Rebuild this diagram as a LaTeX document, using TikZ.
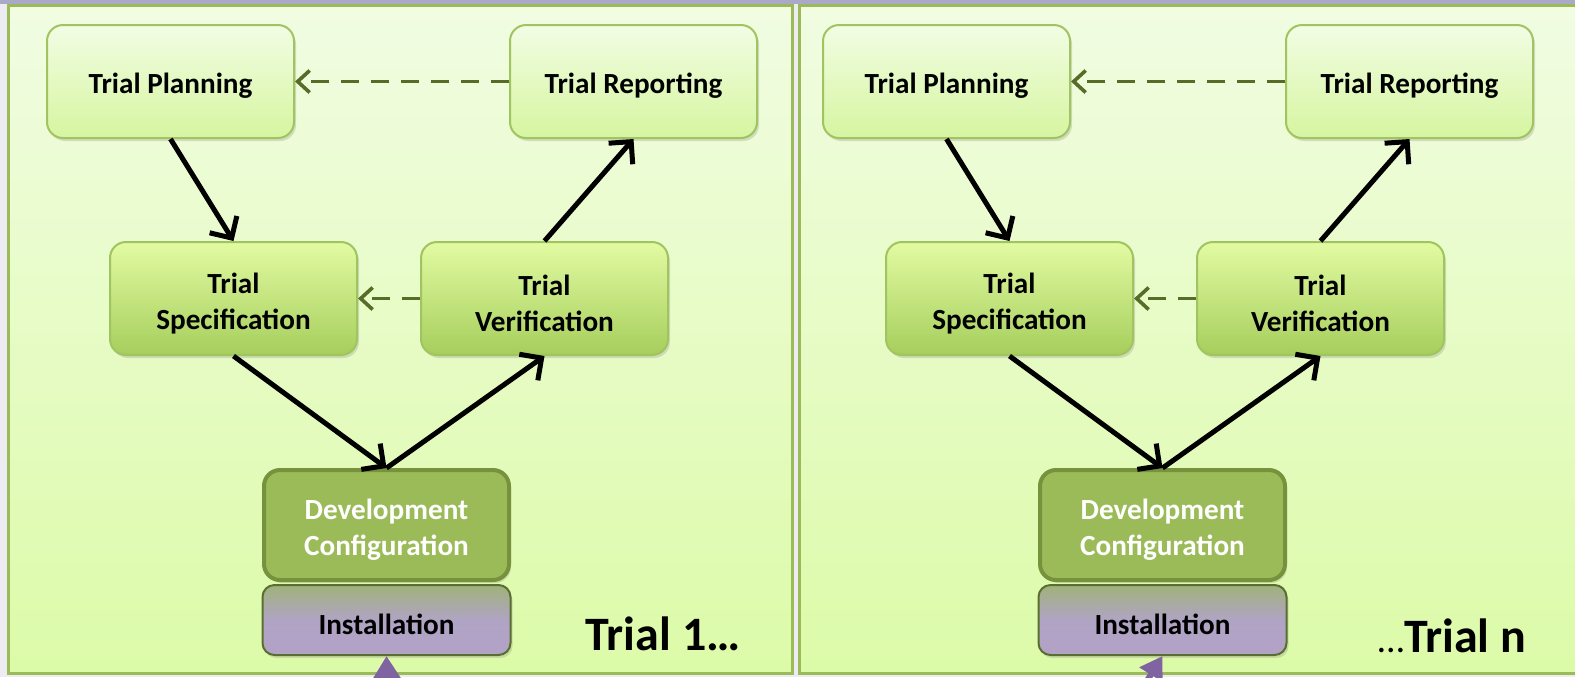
\documentclass[tikz,border=0pt]{standalone}
\usepackage{fontspec}
\setmainfont{Carlito}
\usetikzlibrary{arrows.meta,shadows}

\definecolor{bgcol}{RGB}{236,236,242}
\definecolor{stripcol}{RGB}{170,170,200}
\definecolor{paneltop}{RGB}{241,252,226}
\definecolor{panelbot}{RGB}{220,251,168}
\definecolor{panelline}{RGB}{155,187,89}
\definecolor{boxline}{RGB}{160,196,96}
\definecolor{lighttop}{RGB}{242,253,228}
\definecolor{lightbot}{RGB}{214,245,160}
\definecolor{midtop}{RGB}{226,251,162}
\definecolor{midbot}{RGB}{166,206,92}
\definecolor{devfill}{RGB}{155,187,89}
\definecolor{devline}{RGB}{118,146,60}
\definecolor{insttop}{RGB}{160,178,122}
\definecolor{instmid}{RGB}{176,164,196}
\definecolor{instbot}{RGB}{179,162,199}
\definecolor{instline}{RGB}{90,110,48}
\definecolor{dashcol}{RGB}{88,108,40}
\definecolor{purplecol}{RGB}{128,100,162}

\begin{document}
\begin{tikzpicture}[
		x=0.5pt,y=-0.5pt,
		panel/.style={draw=panelline,line width=1.5pt,top color=paneltop,bottom color=panelbot},
		stepfont/.style={font=\bfseries\fontsize{14.6}{18}\selectfont,align=center},
		oneline/.style={text height=14.5pt},
		twoline/.style={text height=33pt},
		lightbox/.style={rectangle,rounded corners=8pt,draw=boxline,line width=1pt,top color=lighttop,bottom color=lightbot,
			minimum width=123.5pt,minimum height=56.5pt,stepfont,oneline,drop shadow={opacity=0.25,shadow xshift=1pt,shadow yshift=-1.5pt}},
		midbox/.style={lightbox,top color=midtop,bottom color=midbot,twoline},
		devbox/.style={rectangle,rounded corners=8pt,draw=devline,line width=2pt,fill=devfill,text=white,
			minimum width=122.5pt,minimum height=55pt,stepfont,twoline,drop shadow={opacity=0.25,shadow xshift=1pt,shadow yshift=-1.5pt}},
		instbox/.style={rectangle,rounded corners=6pt,draw=instline,line width=1pt,top color=insttop,bottom color=instbot,middle color=instmid,
			minimum width=124pt,minimum height=35pt,stepfont,oneline,drop shadow={opacity=0.25,shadow xshift=1pt,shadow yshift=-1.5pt}},
		flow/.style={-{Straight Barb[length=8pt,width=16pt]},line width=2.5pt,black},
		back/.style={-{Straight Barb[length=6pt,width=11pt]},line width=1.8pt,dashcol,dash pattern=on 9pt off 6pt},
		feed/.style={-{Triangle[length=11pt,width=13pt]},line width=3pt,purplecol},
		trial/.style={font=\bfseries\fontsize{24}{28}\selectfont}
		]
		\useasboundingbox (0,0) rectangle (1575,677);
		\fill[bgcol] (0,0) rectangle (1575,677);
		\fill[stripcol] (0,0) rectangle (1575,4);
		
		% panels
		\draw[panel] (8,5) rectangle (792,673);
		\draw[panel] (799,5) rectangle (1590,673);
		
		% trial 1
		\node[lightbox](plan1) at (170.5,81.5){Trial Planning};
		\node[lightbox](report1) at (633.5,81.5){Trial Reporting};
		\node[midbox](spec1) at (233.5,298.5){Trial\\Specification};
		\node[midbox](verif1) at (544.5,298.5){Trial\\Verification};
		\node[devbox](dev1) at (386.5,525){Development\\Configuration};
		\node[instbox](inst1) at (386.5,620){Installation};
		\node[trial](lbl1) at (663,634){Trial 1…};
		\coordinate (src1) at (388,740);
		
		% trial n
		\node[lightbox](plan2) at (946.5,81.5){Trial Planning};
		\node[lightbox](report2) at (1409.5,81.5){Trial Reporting};
		\node[midbox](spec2) at (1009.5,298.5){Trial\\Specification};
		\node[midbox](verif2) at (1320.5,298.5){Trial\\Verification};
		\node[devbox](dev2) at (1162.5,525){Development\\Configuration};
		\node[instbox](inst2) at (1162.5,620){Installation};
		\node[trial](lbl2) at (1452,636){{\mdseries\fontsize{19}{20}\selectfont …}Trial n};
		\coordinate (src2) at (1110,740);
		
		\foreach \i in {1,2}{
			\draw[flow] (plan\i.south) -- (spec\i.north);
			\draw[flow] (spec\i.south) -- (dev\i.north);
			\draw[flow] (dev\i.north) -- (verif\i.south);
			\draw[flow] (verif\i.north) -- (report\i.south);
			\draw[back] (report\i.west) -- (plan\i.east);
			\draw[back] (verif\i.west) -- (spec\i.east);
			\draw[feed] (src\i) -- (inst\i.south);
		}
		
\end{tikzpicture}
\end{document}
